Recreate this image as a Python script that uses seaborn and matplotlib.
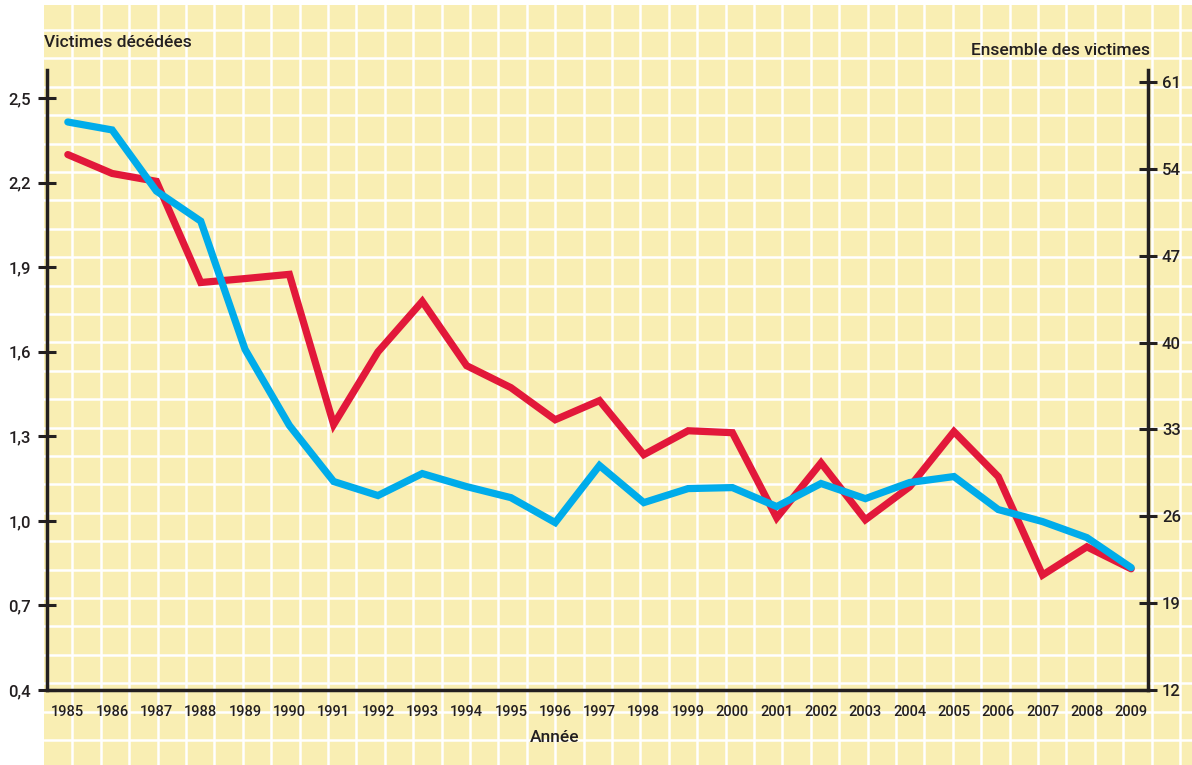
import numpy as np
import pandas as pd
import matplotlib
matplotlib.use("Agg")
import matplotlib.pyplot as plt
import seaborn as sns

# --- data ---
years = list(range(1985, 2010))
deces = [2.30, 2.233, 2.205, 1.846, 1.860, 1.875, 1.342, 1.600, 1.779, 1.551,
         1.473, 1.359, 1.427, 1.235, 1.320, 1.313, 1.011, 1.206, 1.004, 1.121,
         1.317, 1.157, 0.808, 0.908, 0.830]
ensemble = [57.77, 57.13, 52.2, 49.78, 39.45, 33.32, 28.8, 27.67, 29.44, 28.39,
            27.5, 25.49, 30.09, 27.1, 28.23, 28.31, 26.78, 28.64, 27.42, 28.72,
            29.2, 26.54, 25.57, 24.28, 21.86]
left_ticks = [0.4, 0.7, 1.0, 1.3, 1.6, 1.9, 2.2, 2.5]
right_ticks = [12, 19, 26, 33, 40, 47, 54, 61]

df = pd.DataFrame({"annee": years, "deces": deces, "ensemble": ensemble})

sns.set_style("white")
plt.rcParams["font.family"] = ["Roboto", "DejaVu Sans"]
plt.rcParams["font.weight"] = "medium"

W, H = 1192, 765
ink = "#231F20"
red = "#E2183A"
blue = "#00ACEA"

fig = plt.figure(figsize=(W / 100, H / 100), dpi=100)

# yellow squared background
bg = fig.add_axes([44 / W, 0, 1 - 44 / W, 760 / H])
bg.set_xlim(44, W)
bg.set_ylim(765, 5)
bg.set_facecolor("#F9EEB3")
bg.set_xticks(np.arange(72.4, W, 28.4))
bg.set_yticks(np.arange(30, 765, 28.4))
bg.grid(color="white", lw=1.8)
bg.tick_params(length=0, labelbottom=False, labelleft=False)
for s in bg.spines.values():
    s.set_visible(False)

# main axes
ax = fig.add_axes([47 / W, (H - 690) / H, (1148 - 47) / W, (690 - 70) / H])
ax.patch.set_alpha(0)
ax2 = ax.twinx()

sns.lineplot(data=df, x="annee", y="deces", ax=ax, color=red, lw=5.2,
             solid_joinstyle="miter", solid_capstyle="round")
sns.lineplot(data=df, x="annee", y="ensemble", ax=ax2, color=blue, lw=5.2,
             solid_joinstyle="miter", solid_capstyle="round")

ax.set_xlim(1984.53, 2009.38)
ax.set_ylim(0.4, 0.4 + 620 / 281.8)
ax2.set_ylim(12, 12 + 620 / 12.41)

ax.set_yticks(left_ticks)
ax.set_yticklabels([f"{v:.1f}".replace(".", ",") for v in left_ticks])
ax2.set_yticks(right_ticks)
ax2.set_yticklabels([str(v) for v in right_ticks])

ax.set_xticks(np.arange(1985.5, 2009, 1.0))
ax.set_xticklabels([])
ax.set_xticks(years, minor=True)
ax.set_xticklabels([str(y) for y in years], minor=True)

ax.tick_params(axis="x", which="major", direction="inout", length=13, width=2.2, color=ink)
ax.tick_params(axis="x", which="minor", length=0, pad=11, labelsize=10.5, labelcolor=ink)
ax.tick_params(axis="y", direction="inout", length=13, width=2.2, color=ink,
               pad=5, labelsize=12, labelcolor=ink)
ax2.tick_params(axis="y", direction="inout", length=13, width=2.2, color=ink,
                pad=3.5, labelsize=12, labelcolor=ink)

for a in (ax, ax2):
    a.set_xlabel("")
    a.set_ylabel("")
    a.spines["top"].set_visible(False)
    for side in ("left", "right", "bottom"):
        a.spines[side].set_linewidth(2.5)
        a.spines[side].set_color(ink)
ax.spines["right"].set_visible(False)
ax2.spines["left"].set_visible(False)
ax2.spines["bottom"].set_visible(False)

fig.text(44 / W, 1 - 47 / H, "Victimes décédées", fontsize=12.5, color=ink, va="baseline")
fig.text(1150 / W, 1 - 55 / H, "Ensemble des victimes", fontsize=12.5, color=ink,
         va="baseline", ha="right")
fig.text(555 / W, 1 - 742 / H, "Année", fontsize=12.5, color=ink, va="baseline", ha="center")

fig.savefig("out.png", dpi=100)
